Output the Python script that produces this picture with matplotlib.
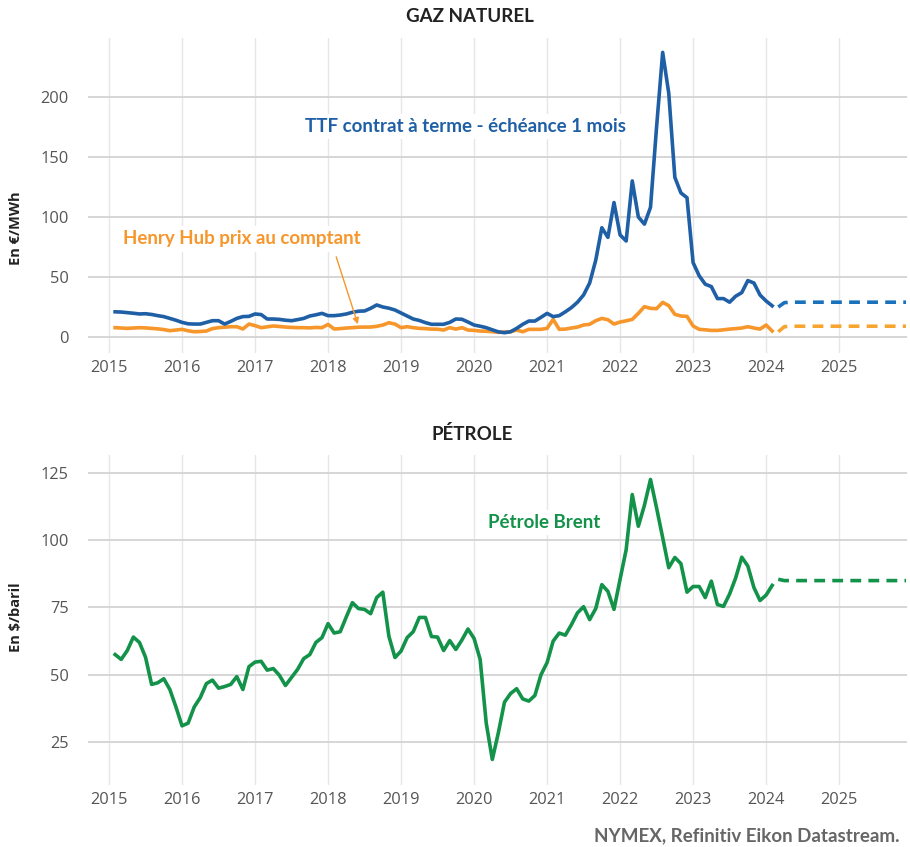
import matplotlib
matplotlib.use("Agg")
import matplotlib.pyplot as plt
import numpy as np
import pandas as pd

# ---------------- data ----------------
start_month = "2015-02-01"
end_month = "2024-02-01"
fc_start = "2024-03-01"
fc_end = "2025-12-01"

ttf = [21.0, 20.8, 20.3, 19.8, 19.2, 19.4, 18.8, 17.8, 17.0, 15.5, 14.0,
       12.2, 11.0, 10.8, 10.8, 12.2, 13.6, 13.6, 10.8, 13.0, 15.5, 17.0, 17.2,
       19.2, 18.7, 15.0, 15.0, 14.7, 14.0, 13.6, 14.5, 15.5, 17.5, 18.5, 19.7,
       17.8, 17.8, 18.3, 19.2, 20.6, 21.5, 21.7, 23.9, 26.7, 25.0, 24.0, 22.5,
       20.0, 17.5, 15.0, 13.8, 12.0, 10.6, 10.6, 10.6, 12.2, 15.0, 14.8, 12.5,
       10.0, 9.0, 7.8, 6.0, 4.3, 3.6, 4.4, 7.2, 10.6, 13.3, 13.3, 16.4,
       19.7, 17.0, 17.8, 21.0, 24.5, 29.0, 35.0, 45.0, 64.0, 91.0, 83.0, 112.0,
       85.0, 80.0, 130.0, 100.0, 94.0, 108.0, 175.0, 237.0, 203.0, 133.0, 120.0, 116.0,
       62.0, 51.0, 44.0, 42.0, 32.0, 32.0, 29.0, 34.0, 37.0, 47.0, 45.0, 35.0,
       30.0, 26.0]

henry_hub = [7.8, 7.5, 7.2, 7.5, 7.8, 7.6, 7.2, 6.8, 6.2, 5.3, 5.8,
             6.4, 5.2, 4.4, 4.6, 5.0, 7.0, 7.8, 8.2, 8.6, 8.6, 6.7, 10.8,
             9.5, 7.8, 8.5, 9.2, 8.8, 8.3, 8.0, 7.8, 7.8, 7.6, 8.0, 7.8,
             10.5, 6.7, 7.0, 7.5, 7.8, 8.2, 8.3, 8.3, 8.9, 10.0, 11.9, 10.8,
             7.8, 8.6, 7.8, 7.2, 7.0, 6.6, 6.5, 5.8, 7.8, 6.6, 7.8, 5.8,
             5.5, 5.0, 4.8, 4.4, 3.9, 4.2, 4.4, 5.8, 4.4, 6.4, 6.4, 6.4,
             7.2, 14.7, 6.4, 6.6, 7.5, 8.3, 10.0, 10.6, 13.6, 15.5, 14.4, 10.8,
             12.5, 13.5, 14.7, 19.7, 25.3, 23.9, 23.6, 28.9, 26.1, 18.9, 17.5, 17.2,
             9.2, 6.4, 6.0, 5.5, 5.5, 6.0, 6.6, 7.0, 7.5, 8.6, 7.5, 6.6,
             10.0, 5.0]

brent = [57.5, 55.7, 59.0, 64.0, 62.0, 56.5, 46.4, 47.0, 48.5, 44.5, 38.0,
         31.0, 32.0, 38.0, 41.5, 46.7, 48.0, 45.0, 45.6, 46.4, 49.3, 44.5, 53.0,
         54.7, 55.0, 51.7, 52.3, 49.8, 46.0, 49.0, 52.0, 56.0, 57.5, 62.0, 63.8,
         69.0, 65.5, 66.0, 71.5, 76.8, 74.6, 74.3, 72.7, 78.7, 80.7, 64.3, 56.4,
         58.8, 63.8, 66.0, 71.3, 71.3, 64.2, 64.0, 59.0, 62.7, 59.4, 62.9, 67.0,
         63.5, 55.7, 32.0, 18.5, 28.5, 39.8, 43.0, 44.8, 41.0, 40.2, 42.3, 50.0,
         54.5, 62.5, 65.5, 64.7, 68.6, 73.0, 75.3, 70.5, 74.6, 83.5, 81.0, 74.3,
         85.5, 96.5, 117.0, 105.2, 113.0, 122.6, 112.0, 101.0, 89.8, 93.6, 91.3, 80.7,
         82.8, 82.8, 78.7, 84.8, 76.1, 75.4, 80.0, 86.0, 93.7, 90.4, 82.4, 77.6,
         79.6, 83.2]

# forward curves (Mar 2024 - Dec 2025)
ttf_fc = [25.0, 28.6, 29.0, 29.0, 29.0, 29.0, 29.0, 29.0, 29.0, 29.0, 29.0,
          29.0, 29.0, 29.0, 29.0, 29.0, 29.0, 29.0, 29.0, 29.0, 29.0, 29.0]
hh_fc = [4.4, 8.6, 9.0, 9.0, 9.0, 9.0, 9.0, 9.0, 9.0, 9.0, 9.0,
         9.0, 9.0, 9.0, 9.0, 9.0, 9.0, 9.0, 9.0, 9.0, 9.0, 9.0]
brent_fc = [85.5, 85.0, 85.0, 85.0, 85.0, 85.0, 85.0, 85.0, 85.0, 85.0, 85.0,
            85.0, 85.0, 85.0, 85.0, 85.0, 85.0, 85.0, 85.0, 85.0, 85.0, 85.0]

year_ticks = list(range(2015, 2026))
gas_yticks = [0, 50, 100, 150, 200]
oil_yticks = [25, 50, 75, 100, 125]

# --------------- helpers ---------------
def dec_year(idx):
    return idx.year + (idx.month - 1) / 12.0

t_hist = dec_year(pd.date_range(start_month, end_month, freq="MS"))
t_fc = dec_year(pd.date_range(fc_start, fc_end, freq="MS"))

BLUE = "#1f5fa6"
BLUE_FC = "#1a72bd"
ORANGE = "#f7962b"
ORANGE_FC = "#f7a531"
GREEN = "#13924a"
TXT = "#222222"
TICK = "#555555"
LBL_FONT = ["Lato", "DejaVu Sans"]

plt.rcParams['font.family'] = ['Open Sans', 'DejaVu Sans']

W, H = 910, 847
fig = plt.figure(figsize=(W / 100, H / 100), dpi=100)

def px_axes(l, r, t, b):
    return fig.add_axes([l / W, 1 - b / H, (r - l) / W, (b - t) / H])

def style(ax, yticks, ylim):
    ax.set_xlim(2014.712, 2025.93)
    ax.set_ylim(*ylim)
    for s in ax.spines.values():
        s.set_visible(False)
    ax.set_xticks(year_ticks)
    ax.set_yticks(yticks)
    ax.tick_params(length=0, labelsize=11.8, colors=TICK, pad=5)
    ax.tick_params(axis='y', pad=14)
    ax.xaxis.grid(True, color="#e6e6e6", lw=1.0)
    ax.yaxis.grid(True, color="#d6d6d6", lw=1.4)
    ax.set_axisbelow(True)

# -------------- top: gas ---------------
ax1 = px_axes(88, 907, 38, 353)
style(ax1, gas_yticks, (-13.3, 249))
lw = 2.6
ax1.plot(t_hist, henry_hub, color=ORANGE, lw=lw, solid_joinstyle='round', zorder=3)
ax1.plot(t_hist, ttf, color=BLUE, lw=lw, solid_joinstyle='round', zorder=4)
ax1.plot(t_fc, ttf_fc, color=BLUE_FC, lw=lw, dashes=(3, 2), zorder=4)
ax1.plot(t_fc, hh_fc, color=ORANGE_FC, lw=lw, dashes=(3, 2), zorder=3)

bbox = dict(facecolor="white", edgecolor="none", pad=3)
ax1.text(2019.88, 175, "TTF contrat à terme - échéance 1 mois", color=BLUE,
         fontsize=13.5, fontweight="bold", ha="center", va="center",
         family=LBL_FONT, bbox=bbox, zorder=5)
ax1.text(2016.82, 81.7, "Henry Hub prix au comptant", color=ORANGE,
         fontsize=13.5, fontweight="bold", ha="center", va="center",
         family=LBL_FONT, bbox=bbox, zorder=5)
ax1.annotate("", xy=(2018.42, 8.5), xytext=(2018.1, 69),
             arrowprops=dict(arrowstyle="-|>", color=ORANGE, lw=1.0,
                             mutation_scale=9), zorder=6)

fig.text(470 / W, 1 - 17 / H, "GAZ NATUREL", ha="center", va="center",
         fontsize=13.5, fontweight="bold", color=TXT, family=LBL_FONT)
fig.text(16 / W, 1 - 228 / H, "En €/MWh", ha="center", va="center",
         rotation=90, fontsize=10.5, fontweight="bold", color=TXT)

# -------------- bottom: oil ---------------
ax2 = px_axes(88, 907, 455, 785)
style(ax2, oil_yticks, (9.0, 131.7))
ax2.plot(t_hist, brent, color=GREEN, lw=lw, solid_joinstyle='round', zorder=3)
ax2.plot(t_fc, brent_fc, color=GREEN, lw=lw, dashes=(3, 2), zorder=3)
ax2.text(2020.96, 106.6, "Pétrole Brent", color=GREEN,
         fontsize=13.5, fontweight="bold", ha="center", va="center",
         family=LBL_FONT, bbox=bbox, zorder=5)

fig.text(472 / W, 1 - 434 / H, "PÉTROLE", ha="center", va="center",
         fontsize=13.5, fontweight="bold", color=TXT, family=LBL_FONT)
fig.text(16 / W, 1 - 617 / H, "En $/baril", ha="center", va="center",
         rotation=90, fontsize=10.5, fontweight="bold", color=TXT)

fig.text(900 / W, 1 - 836 / H, "NYMEX, Refinitiv Eikon Datastream.", ha="right",
         va="center", fontsize=13.5, fontweight="bold", color="#666666",
         family=LBL_FONT)

fig.savefig("out.png", dpi=100, facecolor="white")
